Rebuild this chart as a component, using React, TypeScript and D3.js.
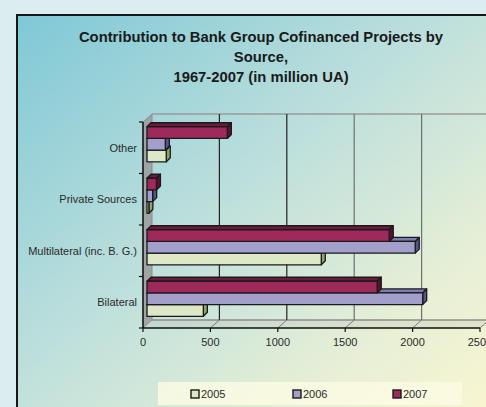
import React from "react";
import * as d3 from "d3";

const categories = ["Other", "Private Sources", "Multilateral (inc. B. G.)", "Bilateral"];
const seriesNames = ["2005", "2006", "2007"];
const values2005 = [143, 14, 1293, 418];
const values2006 = [136, 42, 1990, 2045];
const values2007 = [596, 70, 1797, 1708];
const xTicks = [0, 500, 1000, 1500, 2000, 2500];
const titleLines = [
  "Contribution to Bank Group Cofinanced Projects by",
  "Source,",
  "1967-2007 (in million UA)",
];

const W = 486;
const H = 407;
const FONT = "'Liberation Sans', Arial, sans-serif";

const colors = [
  { front: "#dde8c6", top: "#c3d2a6", side: "#8fa46a" },
  { front: "#a29fcb", top: "#7f7cb0", side: "#56538f" },
  { front: "#9d2a5a", top: "#6e1a3c", side: "#5a1230" },
];

export default function App() {
  const seriesValues = [values2005, values2006, values2007];
  const x = d3.scaleLinear().domain([0, 2500]).range([143, 480]);
  const y = d3.scaleBand<string>().domain(categories).range([122, 328]).padding(0);
  const DX = 9, DY = -8;
  const BD = 4;
  const barOff = 4;
  const xb = (v: number) => x(v) + barOff;
  const inner = d3
    .scaleBand<string>()
    .domain(["2007", "2006", "2005"])
    .range([y.bandwidth() * 0.17, y.bandwidth() * 0.85])
    .padding(0);

  const bars: JSX.Element[] = [];
  categories.forEach((cat, ci) => {
    seriesNames.forEach((s, si) => {
      const v = seriesValues[si][ci];
      const x0 = xb(0);
      const x1 = xb(v);
      const yt = (y(cat) as number) - barOff + (inner(s) as number);
      const yb = yt + inner.bandwidth();
      const c = colors[si];
      bars.push(
        <g key={cat + s} stroke="#1a1a1a" strokeWidth={1.3} strokeLinejoin="round">
          <polygon
            points={`${x0},${yt} ${x1},${yt} ${x1 + BD},${yt - BD} ${x0 + BD},${yt - BD}`}
            fill={c.top}
          />
          <polygon
            points={`${x1},${yt} ${x1 + BD},${yt - BD} ${x1 + BD},${yb - BD} ${x1},${yb}`}
            fill={c.side}
          />
          <rect x={x0} y={yt} width={Math.max(0, x1 - x0)} height={yb - yt} fill={c.front} />
        </g>
      );
    });
  });

  const yTop = 122, yBot = 328;
  const xL = x(0), xR = x(2500);

  return (
    <svg
      width={W}
      height={H}
      style={{ position: "fixed", left: 0, top: 0, display: "block" }}
      fontFamily={FONT}
    >
      <defs>
        <linearGradient id="panelGrad" x1="0" y1="0" x2="1" y2="1">
          <stop offset="0" stopColor="#7fc8d6" />
          <stop offset="0.45" stopColor="#bfe0dc" />
          <stop offset="0.75" stopColor="#e6efd6" />
          <stop offset="1" stopColor="#fcf7d0" />
        </linearGradient>
      </defs>
      <rect x={0} y={0} width={W} height={H} fill="#dcedf2" />
      <rect x={17} y={15} width={490} height={410} fill="url(#panelGrad)" stroke="#161616" strokeWidth={2} />

      {titleLines.map((t, i) => (
        <text
          key={i}
          x={261}
          y={42 + i * 20}
          textAnchor="middle"
          fontSize={14.8}
          fontWeight="bold"
          fill="#1a1a1a"
        >
          {t}
        </text>
      ))}

      <polygon
        points={`${xL},${yTop} ${xL + DX},${yTop + DY} ${xL + DX},${yBot + DY} ${xL},${yBot}`}
        fill="#9a9a9a"
        fillOpacity={0.85}
        stroke="#8a8a8a"
        strokeWidth={1}
      />
      <polygon
        points={`${xL},${yBot} ${xR},${yBot} ${xR + DX},${yBot + DY} ${xL + DX},${yBot + DY}`}
        fill="#b8b8b0"
        fillOpacity={0.25}
        stroke="none"
      />
      <line x1={xL + DX} x2={xR + DX} y1={yBot + DY} y2={yBot + DY} stroke="#8c8c8c" strokeWidth={1.5} />
      <line x1={xL + DX} x2={xR + DX} y1={yTop + DY} y2={yTop + DY} stroke="#9a9a9a" strokeWidth={1.5} />
      {xTicks.slice(1).map((t) => (
        <g key={t}>
          <line
            x1={x(t) + DX}
            x2={x(t) + DX}
            y1={yTop + DY}
            y2={yBot + DY}
            stroke={t <= 1000 ? "#222" : "#6f6f6f"}
            strokeWidth={1.2}
          />
          <line x1={x(t)} y1={yBot} x2={x(t) + DX} y2={yBot + DY} stroke="#7a7a7a" strokeWidth={1} />
        </g>
      ))}

      {bars}

      <line x1={xL} x2={xL} y1={yTop} y2={yBot} stroke="#111" strokeWidth={1.5} />
      <line x1={xL} x2={xR} y1={yBot} y2={yBot} stroke="#111" strokeWidth={1.5} />
      {[...categories.map((c) => y(c) as number), yBot].map((yy, i) => (
        <line key={i} x1={xL - 4} x2={xL} y1={yy} y2={yy} stroke="#111" strokeWidth={1.2} />
      ))}
      {xTicks.map((t) => (
        <g key={t}>
          <line x1={x(t)} x2={x(t)} y1={yBot} y2={yBot + 4} stroke="#111" strokeWidth={1.2} />
          <text x={x(t)} y={346} textAnchor="middle" fontSize={11} fill="#2a2a2a">
            {t}
          </text>
        </g>
      ))}
      {categories.map((c) => (
        <text
          key={c}
          x={137}
          y={(y(c) as number) + y.bandwidth() / 2 + 4}
          textAnchor="end"
          fontSize={11}
          fill="#2a2a2a"
        >
          {c}
        </text>
      ))}

      <rect x={158} y={382} width={304} height={23} fill="#fdfbe4" fillOpacity={0.8} />
      {seriesNames.map((s, i) => {
        const lx = [191, 293, 393][i];
        return (
          <g key={s}>
            <rect x={lx} y={390} width={8} height={8} fill={colors[i].front} stroke="#1a1a1a" strokeWidth={1.4} />
            <text x={lx + 10} y={398} fontSize={11} fill="#2a2a2a">
              {s}
            </text>
          </g>
        );
      })}
    </svg>
  );
}
